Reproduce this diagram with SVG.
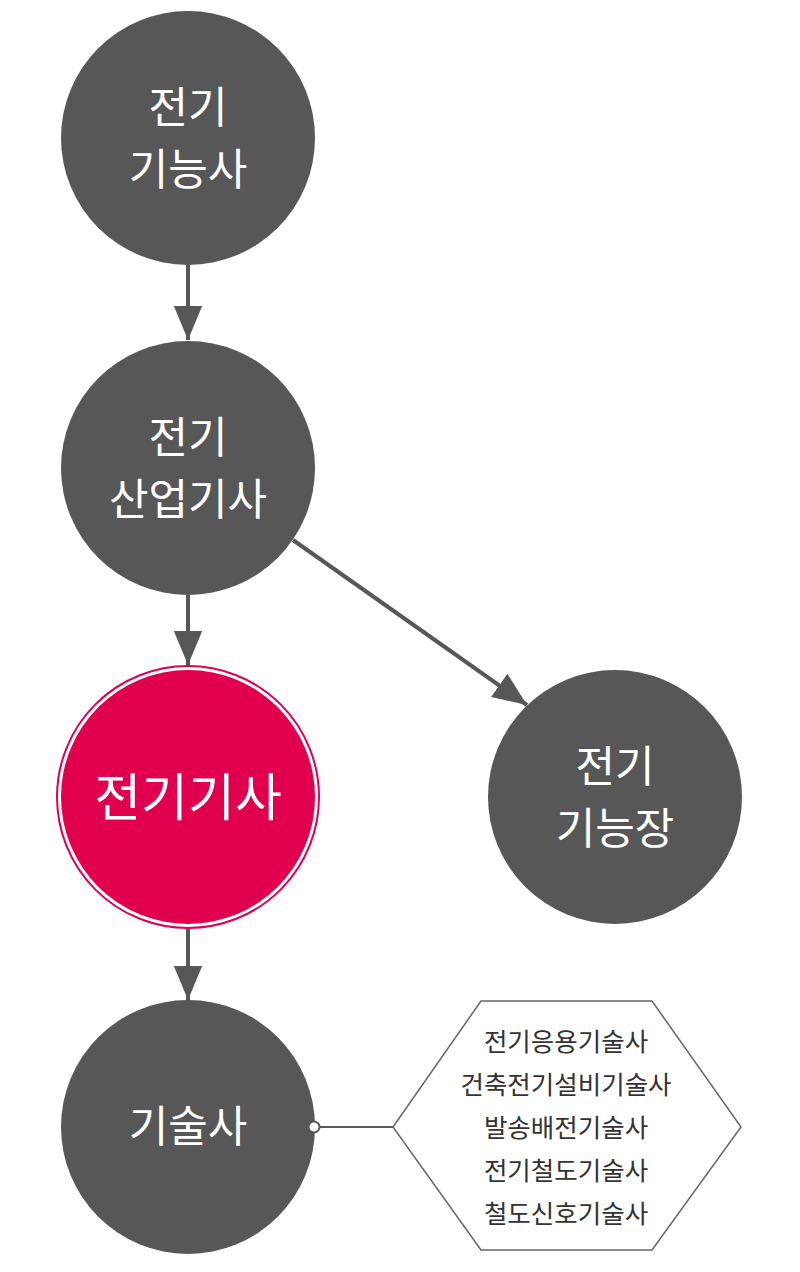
<svg xmlns="http://www.w3.org/2000/svg" width="800" height="1272" viewBox="0 0 800 1272">
<defs>
<style>
.node{fill:#575757;}
.t{font-family:"Noto Sans CJK KR","Noto Sans",sans-serif;fill:#ffffff;text-anchor:middle;font-size:43px;}
.h{font-family:"Noto Sans CJK KR","Noto Sans",sans-serif;fill:#333333;text-anchor:middle;font-size:25.5px;}
.edge{stroke:#575757;stroke-width:4;fill:none;}
</style>
<marker id="arr" viewBox="0 0 12 10" refX="12" refY="5" markerWidth="8.5" markerHeight="7.5" markerUnits="strokeWidth" orient="auto">
<path d="M0,0 L12,5 L0,10 Z" fill="#575757"/>
</marker>
</defs>
<rect width="800" height="1272" fill="#ffffff"/>
<g id="n1">
<circle class="node" cx="188" cy="138" r="127"/>
<text class="t" x="188" y="123">전기</text>
<text class="t" x="188" y="185">기능사</text>
</g>
<g id="n2">
<circle class="node" cx="188" cy="468" r="127"/>
<text class="t" x="188" y="453">전기</text>
<text class="t" x="188" y="515">산업기사</text>
</g>
<g id="n3">
<circle cx="188" cy="797" r="131" fill="#ffffff" stroke="#e0004d" stroke-width="2"/>
<circle cx="188" cy="797" r="127" fill="#e0004d"/>
<text class="t" x="188" y="816" style="font-size:51px">전기기사</text>
</g>
<g id="n4">
<circle class="node" cx="615" cy="797" r="127"/>
<text class="t" x="615" y="782">전기</text>
<text class="t" x="615" y="844">기능장</text>
</g>
<g id="n5">
<circle class="node" cx="188" cy="1127" r="127"/>
<text class="t" x="188" y="1142">기술사</text>
</g>
<g id="n6">
<polygon points="393,1127 481,1001 652,1001 741,1127 652,1250 481,1250" fill="#ffffff" stroke="#666666" stroke-width="1.5"/>
<text class="h" x="566" y="1051">전기응용기술사</text>
<text class="h" x="566" y="1094">건축전기설비기술사</text>
<text class="h" x="566" y="1137">발송배전기술사</text>
<text class="h" x="566" y="1180">전기철도기술사</text>
<text class="h" x="566" y="1223">철도신호기술사</text>
</g>
<g id="connectors">
<line class="edge" x1="188" y1="265" x2="188" y2="340" marker-end="url(#arr)"/>
<line class="edge" x1="188" y1="595" x2="188" y2="665" marker-end="url(#arr)"/>
<line class="edge" x1="293" y1="540" x2="527" y2="705" marker-end="url(#arr)"/>
<line class="edge" x1="188" y1="929" x2="188" y2="1000" marker-end="url(#arr)"/>
<line x1="319" y1="1127" x2="393" y2="1127" stroke="#575757" stroke-width="2"/>
<circle cx="314" cy="1127" r="5.5" fill="#ffffff" stroke="#575757" stroke-width="2"/>
</g>
</svg>
